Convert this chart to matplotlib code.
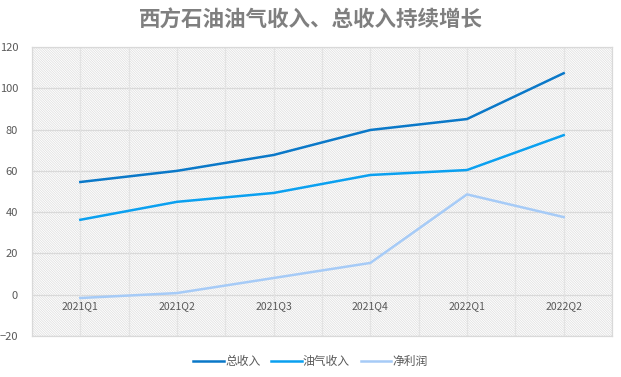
import matplotlib.pyplot as plt
from matplotlib.patches import Rectangle

plt.rcParams['font.family'] = ['Noto Sans CJK SC', 'DejaVu Sans']
plt.rcParams['hatch.linewidth'] = 0.5
plt.rcParams['hatch.color'] = '#dddddd'

quarters = ['2021Q1', '2021Q2', '2021Q3', '2021Q4', '2022Q1', '2022Q2']
total_rev = [54.6, 60.0, 67.7, 79.8, 85.1, 107.3]
oil_gas_rev = [36.3, 45.0, 49.3, 58.0, 60.4, 77.3]
net_profit = [-1.6, 0.8, 8.1, 15.4, 48.6, 37.6]

fig = plt.figure(figsize=(6.21, 3.77), dpi=100)
ax = fig.add_axes([32 / 621, 41 / 377, 580 / 621, 289 / 377])

# hatched plot area
ax.add_patch(Rectangle((0, 0), 1, 1, transform=ax.transAxes, facecolor='white',
                       hatch='\\' * 14, edgecolor='#dddddd', linewidth=0, zorder=0))

x = list(range(len(quarters)))
ax.set_xlim(-0.5, len(quarters) - 0.5)
ax.set_ylim(-20, 120)
ax.set_yticks(range(-20, 121, 20))

for v in range(-20, 121, 20):
    ax.axhline(v, color='#d9d9d9', lw=0.9, zorder=1)
for i in range(len(quarters) * 2 + 1):
    ax.axvline(-0.5 + i * 0.5, color='#e3e3e3', lw=0.9, zorder=1)

l1, = ax.plot(x, total_rev, color='#0a78c8', lw=1.8, zorder=3, label='总收入')
l2, = ax.plot(x, oil_gas_rev, color='#0aa0f0', lw=1.8, zorder=3, label='油气收入')
l3, = ax.plot(x, net_profit, color='#a6cbf7', lw=1.8, zorder=3, label='净利润')

for s in ax.spines.values():
    s.set_color('#d9d9d9')
    s.set_linewidth(0.9)

ax.set_xticks([])
for i, q in enumerate(quarters):
    ax.text(i, -3, q, ha='center', va='top', fontsize=7.5, color='#595959', zorder=4)
ax.tick_params(axis='y', length=0, labelsize=8, labelcolor='#595959', pad=10)

fig.suptitle('西方石油油气收入、总收入持续增长', x=0.5, y=0.975, fontsize=15.5,
             fontweight='bold', color='#7f7f7f')

fig.legend(handles=[l1, l2, l3], loc='center', bbox_to_anchor=(0.5, 0.042), ncol=3,
           frameon=False, fontsize=8.5, handlelength=2.6, handletextpad=0.1,
           columnspacing=0.9, labelcolor='#595959')

fig.savefig('out.png', dpi=100)
